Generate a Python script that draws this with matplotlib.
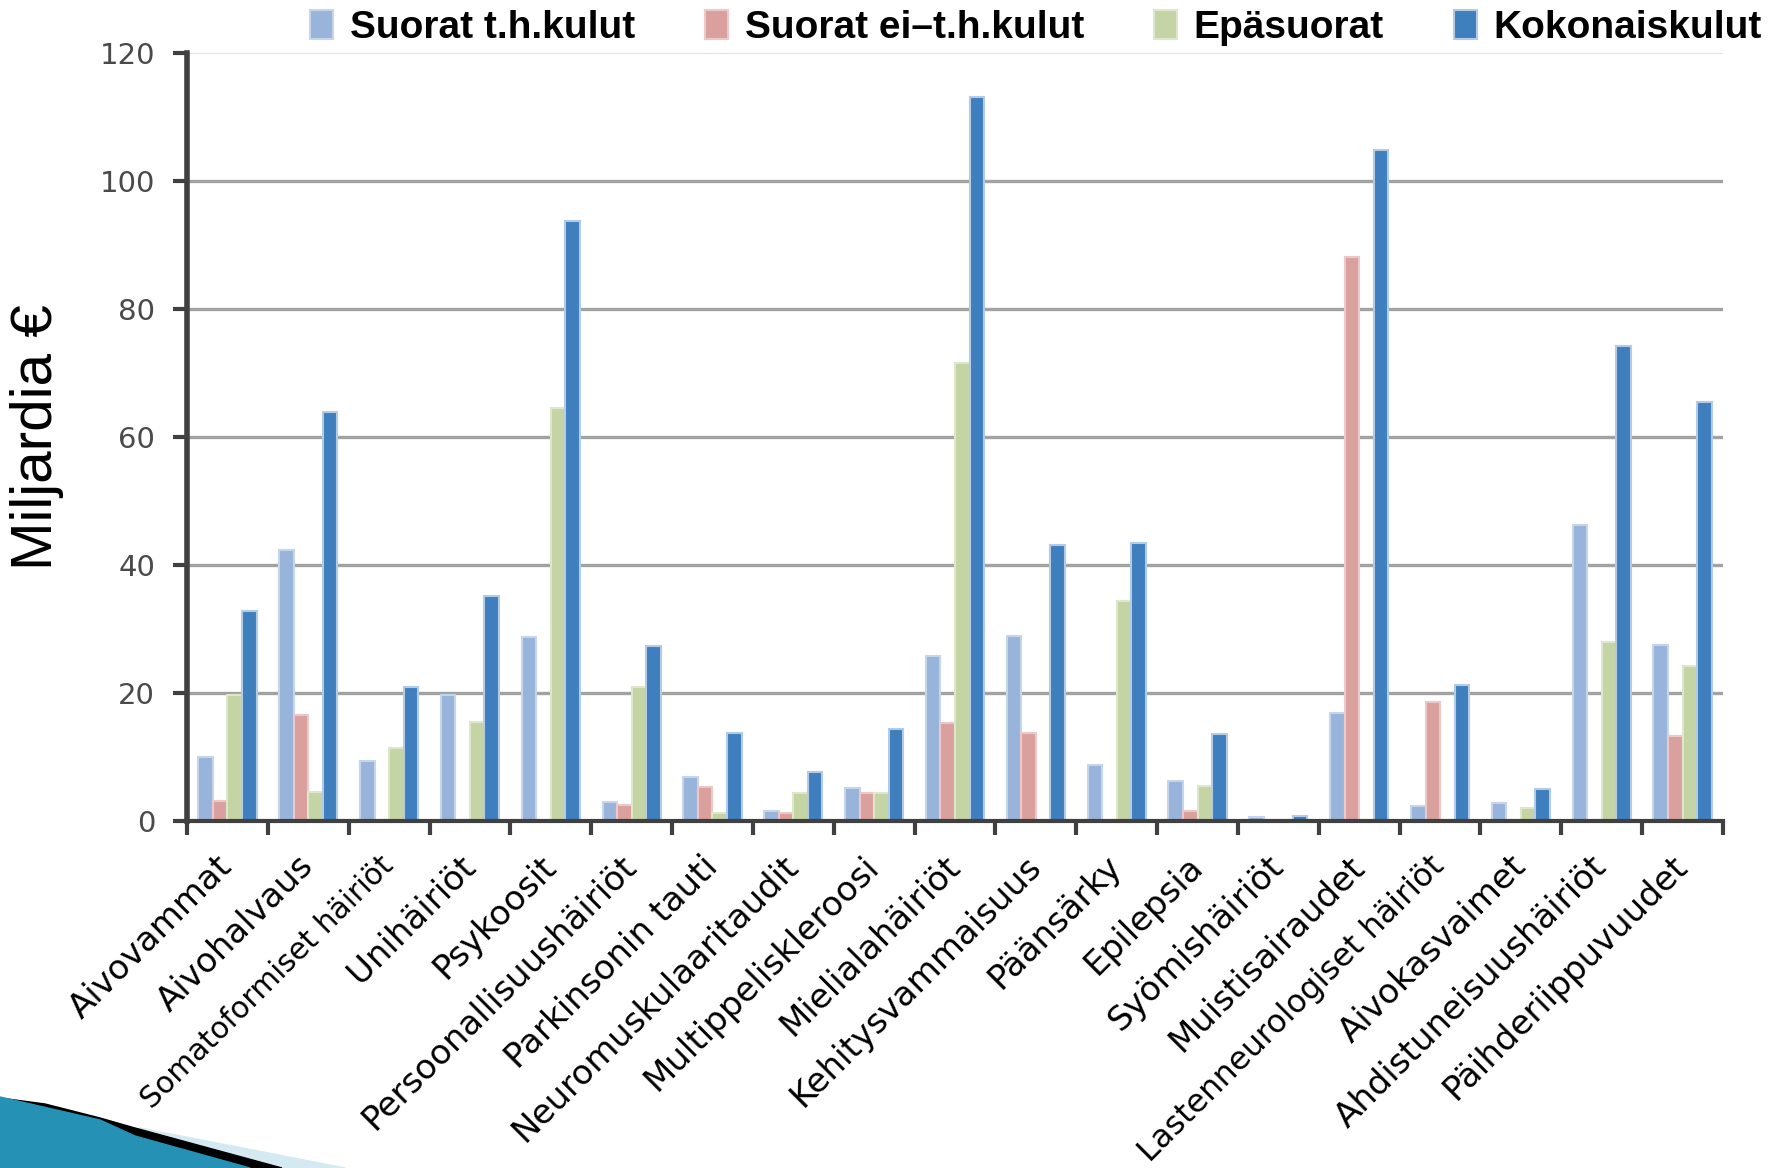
import numpy as np
import matplotlib.pyplot as plt
from matplotlib.patches import Polygon

# data (billions of euros)
categories = ['Aivovammat', 'Aivohalvaus', 'Somatoformiset häiriöt', 'Unihäiriöt',
              'Psykoosit', 'Persoonallisuushäiriöt', 'Parkinsonin tauti',
              'Neuromuskulaaritaudit', 'Multippeliskleroosi', 'Mielialahäiriöt',
              'Kehitysvammaisuus', 'Päänsärky', 'Epilepsia', 'Syömishäiriöt',
              'Muistisairaudet', 'Lastenneurologiset häiriöt', 'Aivokasvaimet',
              'Ahdistuneisuushäiriöt', 'Päihderiippuvuudet']
suorat_th = [10.0, 42.3, 9.4, 19.7, 28.7, 3.0, 6.9, 1.6, 5.1, 25.8,
             28.9, 8.7, 6.2, 0.6, 16.8, 2.3, 2.8, 46.2, 27.5]
suorat_ei = [3.2, 16.6, 0, 0, 0, 2.5, 5.3, 1.2, 4.4, 15.3,
             13.8, 0, 1.5, 0.2, 88.1, 18.6, 0, 0, 13.3]
epasuorat = [19.7, 4.6, 11.4, 15.5, 64.6, 20.9, 1.2, 4.4, 4.4, 71.6,
             0, 34.3, 5.5, 0, 0, 0, 2.0, 27.9, 24.2]
kokonais = [32.8, 63.9, 20.9, 35.2, 93.8, 27.3, 13.8, 7.6, 14.3, 113.2,
            43.2, 43.4, 13.6, 0.8, 104.9, 21.2, 5.0, 74.2, 65.5]
series_names = ['Suorat t.h.kulut', 'Suorat ei\u2013t.h.kulut', 'Epäsuorat', 'Kokonaiskulut']
yticks = [0, 20, 40, 60, 80, 100, 120]

colors = ['#98b4da', '#d9a09e', '#c4d4a4', '#3f7fbe']
edges = ['#c6d5ec', '#ecc9c8', '#dde7cc', '#b3cbe6']

W, H = 1772, 1168
fig = plt.figure(figsize=(W / 100, H / 100), dpi=100)
ax = fig.add_axes([187 / W, 1 - 821 / H, (1723 - 187) / W, (821 - 53) / H])

x = np.arange(len(categories))
bw = 0.18
data = [suorat_th, suorat_ei, epasuorat, kokonais]
handles = []
for i, vals in enumerate(data):
    b = ax.bar(x + (i - 1.5) * bw, vals, bw, color=colors[i], edgecolor=edges[i],
               linewidth=1.5, zorder=3, label=series_names[i])
    handles.append(b)

ax.set_xlim(-0.5, len(categories) - 0.5)
ax.set_ylim(0, 120)
ax.set_yticks(yticks)
ax.set_yticklabels([str(v) for v in yticks], fontsize=21, color='#4a4a4a',
                   family='DejaVu Sans')
ax.tick_params(axis='y', length=10, width=3, color='#404040', pad=13)

for v in yticks[1:-1]:
    ax.axhline(v, color='#a2a2a2', lw=2.4, zorder=1)
ax.axhline(120, color='#e2e2e2', lw=1.5, zorder=1)

ax.set_xticks(x)
ax.set_xticklabels(categories, rotation=45, ha='right', va='center',
                   rotation_mode='anchor', fontsize=24.5, family='DejaVu Sans')
ax.tick_params(axis='x', which='major', length=0, pad=29)
ax.set_xticks(np.arange(-0.5, len(categories)), minor=True)
ax.tick_params(axis='x', which='minor', length=10, width=3, color='#404040')
for lab in ax.get_xticklabels():
    if lab.get_text().startswith('Somatoformiset'):
        lab.set_fontsize(21.5)
    if lab.get_text().startswith('Lastenneurologiset'):
        lab.set_fontsize(23)

for s in ['top', 'right']:
    ax.spines[s].set_visible(False)
ax.spines['left'].set_color('#404040')
ax.spines['left'].set_linewidth(4)
ax.spines['bottom'].set_color('#404040')
ax.spines['bottom'].set_linewidth(3)
ax.spines['bottom'].set_zorder(4)

fig.text(37 / W, 1 - 437 / H, 'Miljardia €', rotation=90, ha='center', va='center',
         fontsize=42, family='Liberation Sans')

fig.legend(handles=handles, loc='upper left', bbox_to_anchor=(310 / W, 1 - 10 / H), ncol=4,
           frameon=False, prop={'family': 'Liberation Sans', 'weight': 'bold', 'size': 28},
           handlelength=0.6, handleheight=0.75, handletextpad=0.42, columnspacing=1.8,
           borderpad=0, borderaxespad=0)

# template decoration in the bottom-left corner
def px(pts):
    return [(a / W, 1 - b / H) for a, b in pts]

fig.add_artist(Polygon(px([(140, 1128), (345, 1168), (275, 1168), (135, 1134)]),
                       closed=True, transform=fig.transFigure, color='#d5e9f2', zorder=0))
fig.add_artist(Polygon(px([(45, 1104), (100, 1118), (135, 1128), (282, 1168),
                           (240, 1168), (0, 1098)]),
                       closed=True, transform=fig.transFigure, color='black', zorder=0))
fig.add_artist(Polygon(px([(0, 1097), (100, 1120), (135, 1136), (250, 1168), (0, 1168)]),
                       closed=True, transform=fig.transFigure, color='#2592b5', zorder=0))

fig.savefig('out.png', dpi=100)
